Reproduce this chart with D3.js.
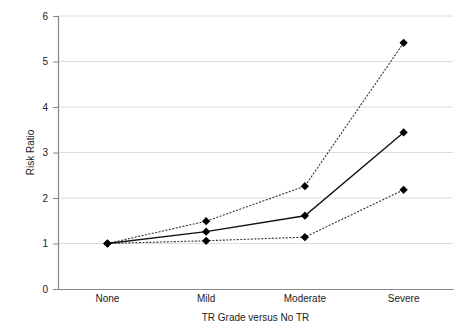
<!DOCTYPE html>
<html>
<head>
<meta charset="utf-8">
<script src="https://cdn.jsdelivr.net/npm/d3@7"></script>
<style>
  html, body { margin: 0; padding: 0; background: #fff; }
  svg { display: block; font-family: "Liberation Sans", Arial, sans-serif; }
</style>
</head>
<body>
<svg id="chart" width="469" height="331"></svg>
<script>
// TR grade categories and risk ratio estimates with confidence bounds
const categories = ["None", "Mild", "Moderate", "Severe"];
const riskRatio = [1, 1.26, 1.61, 3.44];
const upperBound = [1, 1.49, 2.26, 5.41];
const lowerBound = [1, 1.06, 1.14, 2.18];
const yTicks = [0, 1, 2, 3, 4, 5, 6];

const svg = d3.select("#chart");
const margin = { left: 58, right: 16, top: 16, bottom: 42 };
const W = 469, H = 331;

const x = d3.scaleBand().domain(categories)
  .range([margin.left, W - margin.right]).padding(0);
const y = d3.scaleLinear().domain([0, 6]).range([H - margin.bottom, margin.top]);

// horizontal gridlines
svg.append("g").selectAll("line").data(yTicks.filter(d => d > 0)).join("line")
  .attr("x1", margin.left).attr("x2", W - margin.right)
  .attr("y1", d => y(d)).attr("y2", d => y(d))
  .attr("stroke", "#dcdcdc").attr("stroke-width", 1);

// y axis
const yAxis = svg.append("g").attr("transform", `translate(${margin.left},0)`)
  .call(d3.axisLeft(y).tickValues(yTicks).tickSize(5).tickPadding(5).tickFormat(d3.format("d")));
yAxis.select(".domain").attr("stroke", "#888").attr("stroke-width", 1.2);
yAxis.selectAll(".tick line").attr("stroke", "#888");
yAxis.selectAll("text").attr("font-size", 10).attr("fill", "#222")
  .attr("font-family", "Liberation Sans, Arial, sans-serif");

// x axis
const xAxis = svg.append("g").attr("transform", `translate(0,${y(0)})`)
  .call(d3.axisBottom(x).tickSize(0).tickPadding(6));
xAxis.select(".domain").attr("stroke", "#888").attr("stroke-width", 1.2);
xAxis.selectAll("text").attr("font-size", 10).attr("fill", "#222")
  .attr("font-family", "Liberation Sans, Arial, sans-serif");

// axis titles
svg.append("text").attr("x", (margin.left + W - margin.right) / 2).attr("y", 321)
  .attr("text-anchor", "middle").attr("font-size", 10).attr("fill", "#222")
  .text("TR Grade versus No TR");
svg.append("text")
  .attr("transform", `translate(34,${(y(0) + y(6)) / 2}) rotate(-90)`)
  .attr("text-anchor", "middle").attr("font-size", 10).attr("fill", "#222")
  .text("Risk Ratio");

const line = d3.line()
  .x((d, i) => x(categories[i]) + x.bandwidth() / 2)
  .y(d => y(d));

const series = [
  { values: upperBound, dash: "2,1.5", color: "#333", width: 1.1 },
  { values: lowerBound, dash: "2,1.5", color: "#333", width: 1.1 },
  { values: riskRatio, dash: null, color: "#111", width: 1.4 }
];

series.forEach(s => {
  svg.append("path").datum(s.values)
    .attr("d", line).attr("fill", "none")
    .attr("stroke", s.color).attr("stroke-width", s.width)
    .attr("stroke-dasharray", s.dash);
});

// square markers turned 45° to form even diamonds
const marker = d3.symbol().type(d3.symbolSquare).size(34);
series.forEach(s => {
  svg.append("g").selectAll("path").data(s.values).join("path")
    .attr("d", marker)
    .attr("transform", (d, i) => `translate(${x(categories[i]) + x.bandwidth() / 2},${y(d)}) rotate(45)`)
    .attr("fill", "#000");
});
</script>
</body>
</html>
